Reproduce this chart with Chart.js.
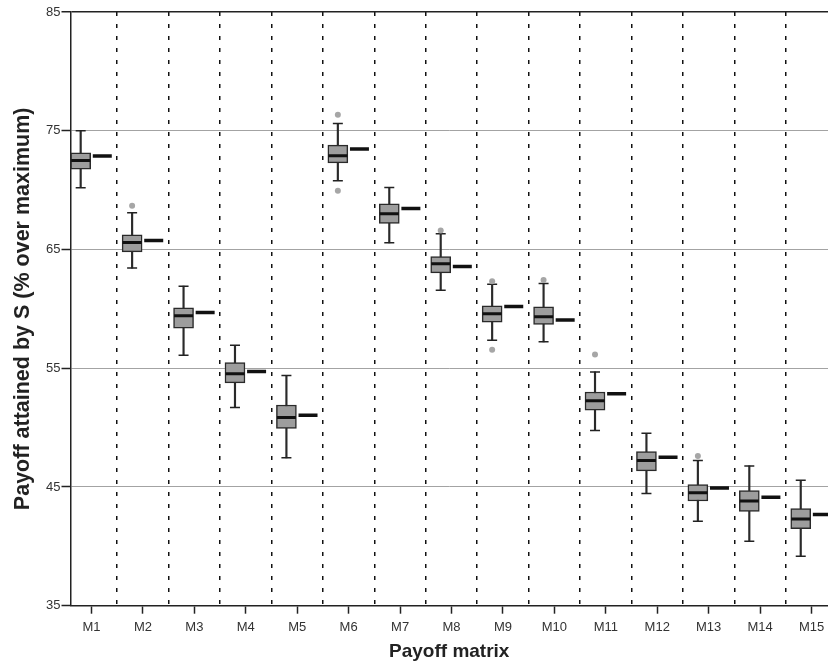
<!DOCTYPE html>
<html>
<head>
<meta charset="utf-8">
<script src="https://cdn.jsdelivr.net/npm/chart.js@4.4.1/dist/chart.umd.min.js"></script>
<style>
  html, body { margin: 0; padding: 0; background: #fff; }
</style>
</head>
<body>
<canvas id="chart" width="828" height="671"></canvas>
<script>
// payoff matrices on the x axis
const categories = ['M1', 'M2', 'M3', 'M4', 'M5', 'M6', 'M7', 'M8', 'M9', 'M10', 'M11', 'M12', 'M13', 'M14', 'M15'];

// box plot summaries of the payoff attained by S (% over maximum)
const whiskerLow  = [70.20, 63.43, 56.10, 51.70, 47.45, 70.79, 65.56, 61.57, 57.36, 57.22, 49.75, 44.44, 42.11, 40.42, 39.16];
const q1          = [71.77, 64.80, 58.37, 53.76, 49.92, 72.30, 67.19, 63.03, 58.88, 58.68, 51.46, 46.35, 43.82, 42.95, 41.49];
const median      = [72.50, 65.59, 59.41, 54.54, 50.84, 72.89, 68.00, 63.79, 59.58, 59.33, 52.25, 47.22, 44.52, 43.82, 42.30];
const q3          = [73.15, 66.24, 60.08, 55.47, 51.90, 73.79, 68.85, 64.41, 60.25, 60.17, 53.00, 47.98, 45.20, 44.69, 43.17];
const whiskerHigh = [75.00, 68.09, 61.91, 56.93, 54.38, 75.62, 70.23, 66.32, 62.08, 62.14, 54.69, 49.52, 47.22, 46.77, 45.56];
const outliers    = [[], [68.68], [], [], [], [76.35, 69.94], [], [66.60], [62.33, 56.55], [62.42], [56.15], [], [47.61], [], []];

// reference payoff for each matrix (short black dash beside the box)
const reference   = [72.87, 65.76, 59.69, 54.73, 51.04, 73.46, 68.46, 63.57, 60.20, 59.07, 52.84, 47.50, 44.92, 44.13, 42.69];

const yTicks = [35, 45, 55, 65, 75, 85];

const FONT = '"Liberation Sans", Arial, Helvetica, sans-serif';
Chart.defaults.font.family = FONT;

// boxes sit left of the category tick, reference dashes to the right
const BOX_SHIFT = -0.21;
const REF_SHIFT = 0.21;
const boxX = i => i + 1 + BOX_SHIFT;

const stems = categories.map((c, i) => ({ x: boxX(i), y: [whiskerLow[i], whiskerHigh[i]] }));
const boxes = categories.map((c, i) => ({ x: boxX(i), y: [q1[i], q3[i]] }));
const medians = categories.map((c, i) => ({ x: boxX(i), y: median[i] }));
const caps = categories.flatMap((c, i) => [{ x: boxX(i), y: whiskerLow[i] }, { x: boxX(i), y: whiskerHigh[i] }]);
const refs = categories.map((c, i) => ({ x: i + 1 + REF_SHIFT, y: reference[i] }));
const outs = outliers.flatMap((vals, i) => vals.map(v => ({ x: boxX(i), y: v })));

const X_MIN = 0.592, X_MAX = 15.32;

// let the plot run to the right edge, no room kept for the last label
const noSidePadding = s => { s.paddingLeft = 0; s.paddingRight = 0; };

new Chart(document.getElementById('chart'), {
  type: 'bar',
  data: {
    datasets: [
      {
        type: 'scatter', data: outs, order: 1,
        pointStyle: 'circle', pointRadius: 3, pointBackgroundColor: '#a6a6a6', pointBorderWidth: 0
      },
      {
        type: 'scatter', data: refs, order: 2,
        pointStyle: 'line', pointRadius: 9.5, pointBorderWidth: 3.5, pointBorderColor: '#111'
      },
      {
        type: 'scatter', data: medians, order: 3,
        pointStyle: 'line', pointRadius: 9.5, pointBorderWidth: 3, pointBorderColor: '#111'
      },
      {
        type: 'scatter', data: caps, order: 3,
        pointStyle: 'line', pointRadius: 5, pointBorderWidth: 1.5, pointBorderColor: '#222'
      },
      {
        type: 'bar', data: boxes, order: 4, grouped: false,
        maxBarThickness: 20, barThickness: 20,
        backgroundColor: '#9d9d9d', borderColor: '#2a2a2a', borderWidth: 1.5, borderSkipped: false
      },
      {
        type: 'bar', data: stems, order: 5, grouped: false,
        maxBarThickness: 1.5, barThickness: 1.5,
        backgroundColor: '#2a2a2a', borderWidth: 0
      }
    ]
  },
  options: {
    responsive: false,
    animation: false,
    layout: { autoPadding: false, padding: { top: 12, right: 0, bottom: 0, left: 0 } },
    plugins: { legend: { display: false }, tooltip: { enabled: false } },
    scales: {
      x: {
        type: 'linear', position: 'bottom', min: X_MIN, max: X_MAX, offset: false,
        afterBuildTicks: s => { s.ticks = categories.map((c, i) => ({ value: i + 1 })); },
        afterFit: s => { s.height = 65.3; noSidePadding(s); },
        grid: { drawOnChartArea: false, offset: false, color: '#222', tickColor: '#222', tickLength: 8, tickWidth: 1.5 },
        border: { color: '#222', width: 1.5 },
        ticks: {
          callback: (v, i) => categories[i],
          color: '#333', font: { size: 13 }, padding: 6, maxRotation: 0, autoSkip: false
        },
        title: {
          display: true, text: 'Payoff matrix', color: '#222',
          font: { size: 19, weight: 'bold' }, padding: { top: 0, bottom: 8 }
        }
      },
      // dashed separators between matrices
      xd: {
        type: 'linear', position: 'top', min: X_MIN, max: X_MAX, offset: false,
        afterBuildTicks: s => { s.ticks = categories.slice(1).map((c, i) => ({ value: i + 1.5 })); },
        afterFit: noSidePadding,
        ticks: { display: false },
        grid: { drawTicks: false, offset: false, color: '#111', lineWidth: 1.5 },
        border: { display: false, dash: [4, 8] }
      },
      y: {
        min: 35, max: 85, beginAtZero: false,
        afterBuildTicks: s => { s.ticks = yTicks.map(v => ({ value: v })); },
        afterFit: s => { s.width = 70.5; },
        grid: {
          color: c => c.tick.value === 85 ? '#222' : (c.tick.value === 35 ? 'rgba(0,0,0,0)' : '#a3a3a3'),
          lineWidth: c => c.tick.value === 85 ? 1.5 : 1,
          tickColor: '#222', tickLength: 9, tickWidth: 1.5
        },
        border: { color: '#222', width: 1.5 },
        ticks: { color: '#333', font: { size: 13 }, padding: 1 },
        title: {
          display: true, text: 'Payoff attained by S (% over maximum)', color: '#222',
          font: { size: 21.5, weight: 'bold' }, padding: { top: 10, bottom: 0 }
        }
      }
    }
  }
});
</script>
</body>
</html>
